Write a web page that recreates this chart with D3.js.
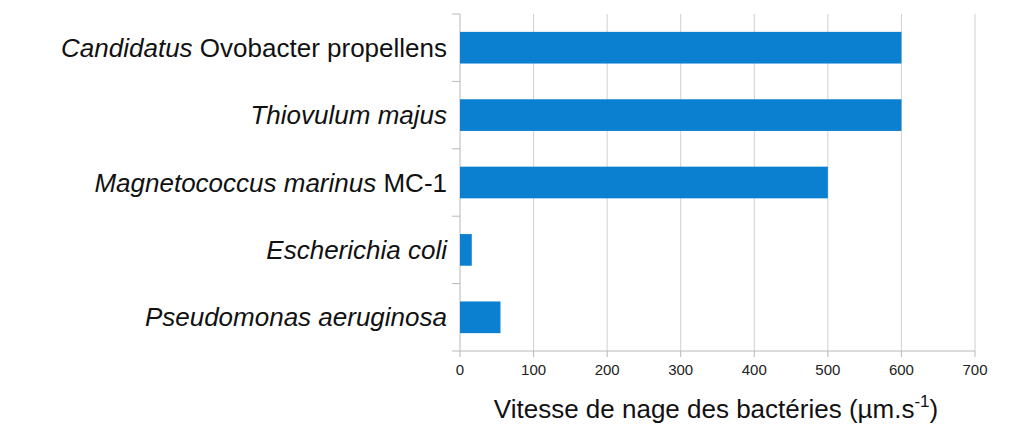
<!DOCTYPE html><html><head><meta charset="utf-8"><script src="https://cdn.jsdelivr.net/npm/d3@7"></script>
<style>body{margin:0;background:#fff}svg{font-family:"Liberation Sans",Arial,sans-serif}</style></head><body><svg width="1024" height="446"></svg>
<script>
const categories=[
 [["Candidatus",true],[" Ovobacter propellens",false]],
 [["Thiovulum majus",true]],
 [["Magnetococcus marinus",true],[" MC-1",false]],
 [["Escherichia coli",true]],
 [["Pseudomonas aeruginosa",true]]];
const values=[600,600,500,16,55];
const ticks=[0,100,200,300,400,500,600,700];
const svg=d3.select("svg");
const x=d3.scaleLinear().domain([0,700]).range([460,975]);
const y=d3.scaleBand().domain(d3.range(5)).range([14,351]).paddingInner(0.53).paddingOuter(0.265);
const yb=d3.scaleBand().domain(d3.range(5)).range([14,351]);
svg.selectAll(".g").data(ticks.slice(1)).join("line").attr("x1",d=>x(d)).attr("x2",d=>x(d)).attr("y1",14).attr("y2",351).attr("stroke","#d0d0d0");
svg.append("line").attr("x1",460).attr("x2",460).attr("y1",14).attr("y2",351).attr("stroke","#b8b8b8");
svg.append("line").attr("x1",452).attr("x2",975).attr("y1",351).attr("y2",351).attr("stroke","#b8b8b8");
svg.selectAll(".yt").data(d3.range(5)).join("line").attr("x1",452).attr("x2",460).attr("y1",d=>yb(d)).attr("y2",d=>yb(d)).attr("stroke","#b8b8b8");
svg.selectAll(".xt").data(ticks).join("line").attr("x1",d=>x(d)).attr("x2",d=>x(d)).attr("y1",351).attr("y2",357).attr("stroke","#b8b8b8");
svg.selectAll(".bar").data(values).join("rect").attr("x",x(0)).attr("y",(d,i)=>y(i)).attr("width",d=>x(d)-x(0)).attr("height",y.bandwidth()).attr("fill","#0b80d0");
svg.selectAll(".xl").data(ticks).join("text").attr("x",d=>x(d)).attr("y",375).attr("text-anchor","middle").attr("font-size",15).attr("fill","#222").text(d=>d);
const lab=svg.selectAll(".cl").data(categories).join("text").attr("x",447).attr("y",(d,i)=>yb(i)+yb.bandwidth()/2+9).attr("text-anchor","end").attr("font-size",26).attr("fill","#111");
lab.selectAll("tspan").data(d=>d).join("tspan").attr("font-style",d=>d[1]?"italic":"normal").text(d=>d[0]);
const t=svg.append("text").attr("x",716).attr("y",418).attr("text-anchor","middle").attr("font-size",26).attr("fill","#111");
t.append("tspan").text("Vitesse de nage des bactéries (µm.s");
t.append("tspan").attr("font-size",17).attr("dy",-11).text("-1");
t.append("tspan").attr("dy",11).text(")");
</script></body></html>
